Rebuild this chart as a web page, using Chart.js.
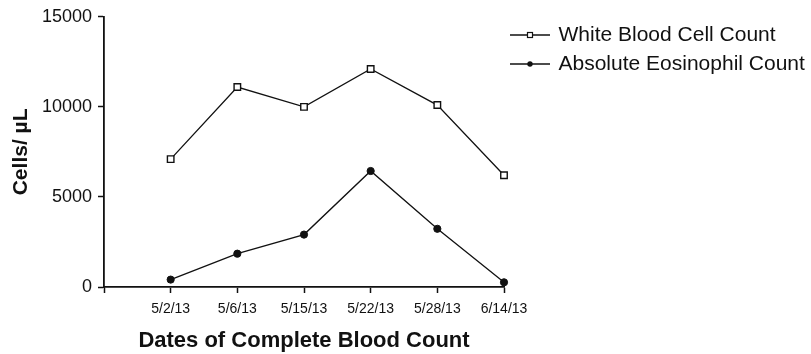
<!DOCTYPE html>
<html>
<head>
<meta charset="utf-8">
<script src="https://cdn.jsdelivr.net/npm/chart.js@4.4.1/dist/chart.umd.min.js"></script>
<style>
  html, body { margin: 0; padding: 0; background: #fff; }
  #wrap { width: 811px; height: 354px; }
</style>
</head>
<body>
<div id="wrap"><canvas id="c" width="811" height="354"></canvas></div>
<script>
// Blood count dates and measured values (cells per microlitre)
const dates = ['5/2/13', '5/6/13', '5/15/13', '5/22/13', '5/28/13', '6/14/13'];
const whiteBloodCells = [7100, 11100, 10000, 12100, 10100, 6200];
const eosinophils = [410, 1850, 2910, 6440, 3230, 260];
const seriesNames = ['White Blood Cell Count', 'Absolute Eosinophil Count'];
const yAxisTitle = 'Cells/ µL';
const xAxisTitle = 'Dates of Complete Blood Count';

const INK = '#111';
const FONT = '"Liberation Sans", Arial, Helvetica, sans-serif';

// Small line-plus-marker swatches for the legend
function legendSwatch(marker) {
  const cv = document.createElement('canvas');
  cv.width = 40; cv.height = 12;
  const g = cv.getContext('2d');
  g.strokeStyle = INK;
  g.lineWidth = 1.5;
  g.beginPath(); g.moveTo(0, 6); g.lineTo(40, 6); g.stroke();
  if (marker === 'square') {
    g.fillStyle = '#fff';
    g.fillRect(17.5, 3.5, 5, 5);
    g.lineWidth = 1.2;
    g.strokeRect(17.5, 3.5, 5, 5);
  } else {
    g.fillStyle = INK;
    g.beginPath(); g.arc(20, 6, 2.7, 0, Math.PI * 2); g.fill();
  }
  return cv;
}
const swatches = [legendSwatch('square'), legendSwatch('circle')];

// Dates sit at positions 1..n on the x axis; position 0 is the origin
const toPoints = vals => vals.map((v, i) => ({ x: i + 1, y: v }));

new Chart(document.getElementById('c'), {
  type: 'line',
  data: {
    datasets: [
      {
        label: seriesNames[0],
        data: toPoints(whiteBloodCells),
        borderColor: INK,
        borderWidth: 1.3,
        pointStyle: 'rect',
        pointRadius: 4.6,
        pointBackgroundColor: '#fff',
        pointBorderColor: INK,
        pointBorderWidth: 1.4,
        tension: 0,
        clip: false
      },
      {
        label: seriesNames[1],
        data: toPoints(eosinophils),
        borderColor: INK,
        borderWidth: 1.3,
        pointStyle: 'circle',
        pointRadius: 3.6,
        pointBackgroundColor: INK,
        pointBorderColor: INK,
        pointBorderWidth: 1,
        tension: 0,
        clip: false
      }
    ]
  },
  options: {
    responsive: false,
    animation: false,
    devicePixelRatio: 1,
    layout: { padding: { top: 16.5, right: 0, bottom: 0, left: 0 } },
    plugins: {
      tooltip: { enabled: false },
      legend: {
        position: 'right',
        align: 'start',
        maxWidth: 307,
        labels: {
          usePointStyle: true,
          pointStyleWidth: 36,
          padding: 8,
          color: INK,
          font: { family: FONT, size: 21 },
          generateLabels(chart) {
            const items = Chart.defaults.plugins.legend.labels.generateLabels(chart);
            items.forEach((it, i) => { it.pointStyle = swatches[i]; });
            return items;
          }
        }
      }
    },
    scales: {
      x: {
        type: 'linear',
        min: 0,
        max: dates.length,
        afterBuildTicks: s => {
          s.ticks = [0, ...dates.map((d, i) => i + 1)].map(v => ({ value: v }));
        },
        ticks: {
          autoSkip: false,
          maxRotation: 0,
          minRotation: 0,
          padding: 8,
          color: INK,
          font: { family: FONT, size: 14 },
          callback: v => (v >= 1 ? dates[v - 1] : '')
        },
        grid: { display: true, drawOnChartArea: false, drawTicks: true, tickLength: 6, color: INK, tickWidth: 1.5 },
        border: { display: true, color: INK, width: 1.8 },
        title: {
          display: true,
          text: xAxisTitle,
          color: INK,
          font: { family: FONT, size: 22, weight: 'bold' },
          padding: { top: 0, bottom: 0 }
        },
        afterFit: s => { s.height = 67; }
      },
      y: {
        type: 'linear',
        min: 0,
        max: 15000,
        ticks: {
          stepSize: 5000,
          padding: 6,
          color: INK,
          font: { family: FONT, size: 18 },
          callback: v => String(v)
        },
        grid: { display: true, drawOnChartArea: false, drawTicks: true, tickLength: 6, color: INK, tickWidth: 1.5 },
        border: { display: true, color: INK, width: 1.8 },
        title: {
          display: true,
          text: yAxisTitle,
          color: INK,
          font: { family: FONT, size: 21, weight: 'bold' },
          padding: { top: 9, bottom: 0 }
        },
        afterFit: s => { s.width = 104; }
      }
    }
  }
});
</script>
</body>
</html>
